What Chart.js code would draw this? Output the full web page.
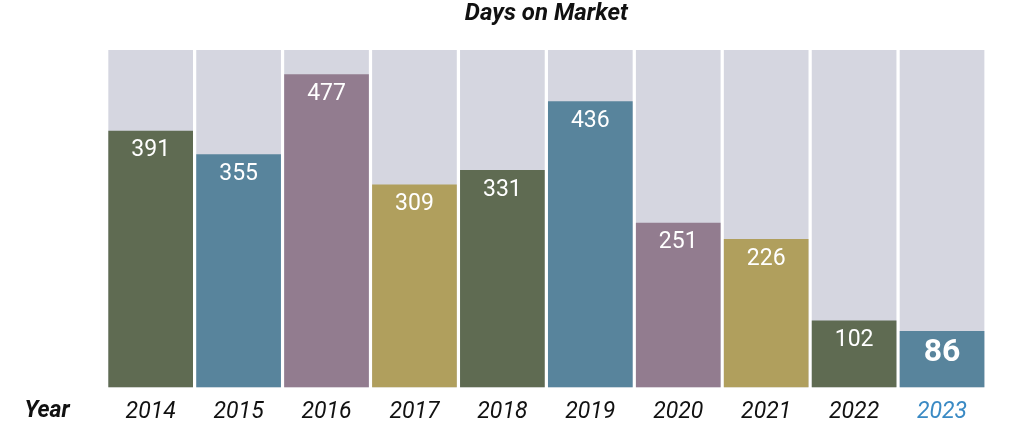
<!DOCTYPE html>
<html><head><meta charset="utf-8">
<script src="https://cdn.jsdelivr.net/npm/chart.js@4"></script>
<style>html,body{margin:0;padding:0;background:#fff}#c{display:block}</style>
</head><body>
<canvas id="c" width="1024" height="444"></canvas>
<script>
const years = ['2014','2015','2016','2017','2018','2019','2020','2021','2022','2023'];
const daysOnMarket = [391,355,477,309,331,436,251,226,102,86];
const backgroundMax = [514,514,514,514,514,514,514,514,514,514];
const barColors = ['#5f6b52','#58849c','#927c8f','#b09f5d','#5f6b52','#58849c','#927c8f','#b09f5d','#5f6b52','#58849c'];
const FONT = 'Roboto, "Liberation Sans Narrow", sans-serif';

const labelPlugin = {
  id: 'valueLabels',
  afterDatasetsDraw(chart) {
    const ctx = chart.ctx;
    const meta = chart.getDatasetMeta(0);
    ctx.save();
    ctx.fillStyle = '#ffffff';
    ctx.textAlign = 'center';
    ctx.textBaseline = 'middle';
    meta.data.forEach((bar, i) => {
      const last = i === daysOnMarket.length - 1;
      ctx.font = last ? 'bold 32px ' + FONT : '23px ' + FONT;
      ctx.fillText(String(daysOnMarket[i]), bar.x, bar.y + (last ? 22 : 20));
    });
    ctx.font = 'italic bold 23px ' + FONT;
    ctx.fillStyle = '#111111';
    ctx.fillText('Year', 47, 411);
    ctx.restore();
  }
};

new Chart(document.getElementById('c'), {
  type: 'bar',
  data: {
    labels: years,
    datasets: [
      { data: daysOnMarket, backgroundColor: barColors, grouped: false, order: 1,
        categoryPercentage: 1, barPercentage: 0.963, borderWidth: 0 },
      { data: backgroundMax, backgroundColor: '#d5d6e0', grouped: false, order: 2,
        categoryPercentage: 1, barPercentage: 0.963, borderWidth: 0 }
    ]
  },
  options: {
    responsive: false,
    animation: false,
    layout: { padding: { left: 106.7, right: 38, top: 0, bottom: 7 } },
    plugins: {
      legend: { display: false },
      tooltip: { enabled: false },
      title: {
        display: true, text: 'Days on Market', fullSize: false,
        color: '#111111',
        font: { family: FONT, size: 24, weight: 'bold', style: 'italic', lineHeight: 1.2 },
        padding: { top: 0, bottom: 21.2 }
      }
    },
    scales: {
      x: {
        grid: { display: false, drawTicks: false },
        border: { display: false },
        ticks: {
          padding: 11,
          color: (c) => c.index === years.length - 1 ? '#3a8ac4' : '#111111',
          font: { family: FONT, size: 23, style: 'italic', lineHeight: 1.2 },
          maxRotation: 0, autoSkip: false
        }
      },
      y: {
        display: false, min: 0, max: 514
      }
    }
  },
  plugins: [labelPlugin]
});
</script>
</body></html>
